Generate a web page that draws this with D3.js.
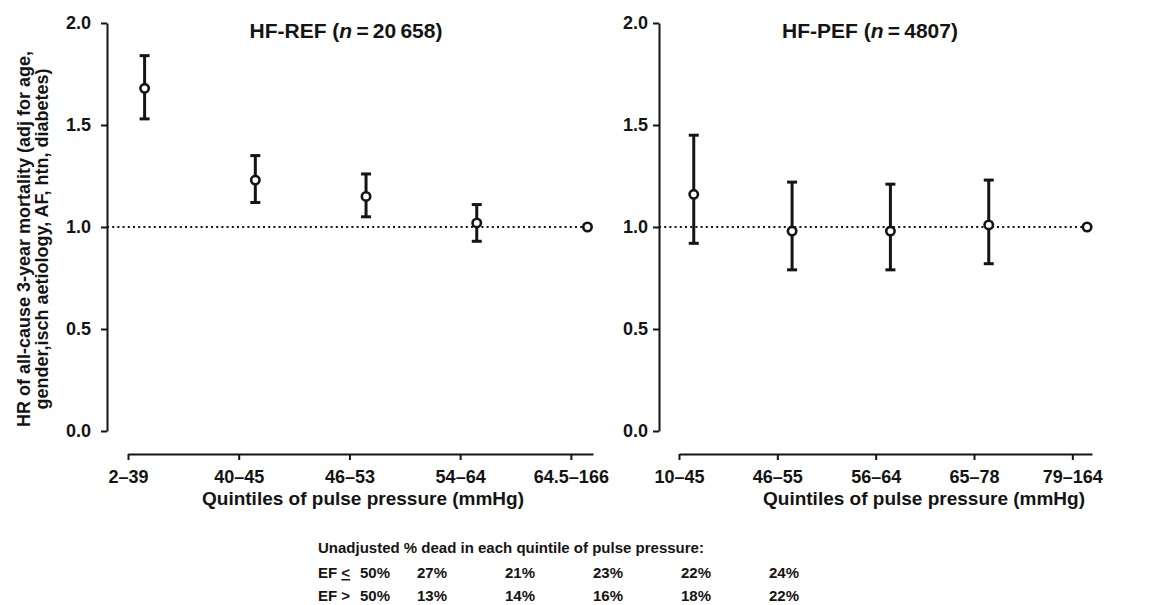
<!DOCTYPE html>
<html>
<head>
<meta charset="utf-8">
<script src="https://cdn.jsdelivr.net/npm/d3@7/dist/d3.min.js"></script>
<style>
  body { margin: 0; background: #fff; }
  svg { display: block; font-family: "Liberation Sans", Arial, sans-serif; font-weight: bold; }
  text { fill: #141414; }
</style>
</head>
<body>
<svg id="chart" width="1167" height="605"></svg>
<script>
/** Data **/
var refLabels = ["2–39", "40–45", "46–53", "54–64", "64.5–166"];
var refHR = [1.68, 1.23, 1.15, 1.02, 1.00];
var refLo = [1.53, 1.12, 1.05, 0.93, null];
var refHi = [1.84, 1.35, 1.26, 1.11, null];

var pefLabels = ["10–45", "46–55", "56–64", "65–78", "79–164"];
var pefHR = [1.16, 0.98, 0.98, 1.01, 1.00];
var pefLo = [0.92, 0.79, 0.79, 0.82, null];
var pefHi = [1.45, 1.22, 1.21, 1.23, null];

var yTicks = [0, 0.5, 1.0, 1.5, 2.0];

var deadLowEF = ["27%", "21%", "23%", "22%", "24%"];
var deadPresEF = ["13%", "14%", "16%", "18%", "22%"];

var svg = d3.select("#chart");
var ink = "#141414";

/** y scale is shared by both panels **/
var yScale = d3.scaleLinear().domain([0, 2]).range([431, 23]);
var xAxisY = 454;

function drawPanel(p) {
    var g = svg.append("g");

    /** x: category index, points sit a bit right of each tick **/
    var xScale = d3.scaleLinear().domain([0, 4.2]).range([p.x0, p.x1]);
    var pts = p.hr.map(function (d, i) {
        return {x: i + 0.15, hr: d, lo: p.lo[i], hi: p.hi[i]};
    });

    /** y axis **/
    var yAxis = d3.axisLeft(yScale)
        .tickValues(yTicks)
        .tickFormat(d3.format(".1f"))
        .tickSize(6)
        .tickSizeOuter(0)
        .tickPadding(p.yPad);
    var ya = g.append("g")
        .attr("transform", "translate(" + p.yAxisX + ",0)")
        .call(yAxis);
    ya.selectAll("path, line").attr("stroke", ink).attr("stroke-width", 2);
    ya.selectAll("text")
        .style("font-size", "18px")
        .style("font-family", "Liberation Sans, Arial, sans-serif")
        .style("font-weight", "bold")
        .attr("fill", ink);

    /** x axis **/
    var xAxis = d3.axisBottom(xScale)
        .tickValues([0, 1, 2, 3, 4])
        .tickFormat(function (d) { return p.labels[d]; })
        .tickSize(6)
        .tickSizeOuter(0)
        .tickPadding(10);
    var xa = g.append("g")
        .attr("transform", "translate(0," + xAxisY + ")")
        .call(xAxis);
    xa.selectAll("path, line").attr("stroke", ink).attr("stroke-width", 2);
    xa.selectAll("text")
        .style("font-size", "18px")
        .style("font-family", "Liberation Sans, Arial, sans-serif")
        .style("font-weight", "bold")
        .attr("fill", ink);

    /** reference line at HR = 1 **/
    g.append("line")
        .attr("x1", p.yAxisX)
        .attr("x2", xScale(pts[pts.length - 1].x))
        .attr("y1", yScale(1))
        .attr("y2", yScale(1))
        .attr("stroke", ink)
        .attr("stroke-width", 2)
        .attr("stroke-dasharray", "2,3.2");

    /** error bars **/
    var ci = pts.filter(function (d) { return d.lo !== null; });
    g.selectAll(".bar").data(ci).enter().append("line")
        .attr("x1", function (d) { return xScale(d.x); })
        .attr("x2", function (d) { return xScale(d.x); })
        .attr("y1", function (d) { return yScale(d.lo); })
        .attr("y2", function (d) { return yScale(d.hi); })
        .attr("stroke", ink)
        .attr("stroke-width", 3);
    ["lo", "hi"].forEach(function (k) {
        g.selectAll(".cap-" + k).data(ci).enter().append("line")
            .attr("x1", function (d) { return xScale(d.x) - 5; })
            .attr("x2", function (d) { return xScale(d.x) + 5; })
            .attr("y1", function (d) { return yScale(d[k]); })
            .attr("y2", function (d) { return yScale(d[k]); })
            .attr("stroke", ink)
            .attr("stroke-width", 3);
    });

    /** point estimates **/
    g.selectAll(".pt").data(pts).enter().append("circle")
        .attr("cx", function (d) { return xScale(d.x); })
        .attr("cy", function (d) { return yScale(d.hr); })
        .attr("r", 4.2)
        .attr("fill", "#fff")
        .attr("stroke", ink)
        .attr("stroke-width", 2.6);

    /** panel title **/
    var t = g.append("text")
        .attr("x", p.titleX)
        .attr("y", 38)
        .attr("text-anchor", "middle")
        .style("font-size", "21px");
    t.append("tspan").text(p.name + " (");
    t.append("tspan").style("font-style", "italic").text("n");
    t.append("tspan").text("\u2009=\u2009" + p.n + ")");

    /** x axis title **/
    g.append("text")
        .attr("x", p.xTitleX)
        .attr("y", 505)
        .attr("text-anchor", "middle")
        .style("font-size", "19px")
        .text("Quintiles of pulse pressure (mmHg)");
}

drawPanel({
    name: "HF-REF", n: "20\u2009658",
    labels: refLabels, hr: refHR, lo: refLo, hi: refHi,
    yAxisX: 107, yPad: 10, x0: 128, x1: 593,
    titleX: 346, xTitleX: 363
});
drawPanel({
    name: "HF-PEF", n: "4807",
    labels: pefLabels, hr: pefHR, lo: pefLo, hi: pefHi,
    yAxisX: 659, yPad: 5, x0: 679, x1: 1092,
    titleX: 870, xTitleX: 924
});

/** y axis title (two lines) **/
var yt = svg.append("text")
    .attr("transform", "rotate(-90)")
    .attr("text-anchor", "middle")
    .style("font-size", "18px");
yt.append("tspan").attr("x", -239).attr("y", 30)
    .text("HR of all-cause 3-year mortality (adj for age,");
yt.append("tspan").attr("x", -239).attr("y", 48)
    .text("gender,isch aetiology, AF, htn, diabetes)");

/** table of unadjusted mortality **/
var colX = d3.scaleLinear().domain([0, 4]).range([417, 769]);
var tbl = svg.append("g").style("font-size", "15px");
tbl.append("text").attr("x", 318).attr("y", 553)
    .text("Unadjusted % dead in each quintile of pulse pressure:");

var r1 = tbl.append("text").attr("x", 318).attr("y", 578);
r1.append("tspan").text("EF ");
r1.append("tspan").style("text-decoration", "underline").text("<");
r1.append("tspan").attr("x", 360).text("50%");
var r2 = tbl.append("text").attr("x", 318).attr("y", 601);
r2.append("tspan").text("EF >");
r2.append("tspan").attr("x", 360).text("50%");

tbl.selectAll(".c1").data(deadLowEF).enter().append("text")
    .attr("x", function (d, i) { return colX(i); })
    .attr("y", 578)
    .text(function (d) { return d; });
tbl.selectAll(".c2").data(deadPresEF).enter().append("text")
    .attr("x", function (d, i) { return colX(i); })
    .attr("y", 601)
    .text(function (d) { return d; });
</script>
</body>
</html>
